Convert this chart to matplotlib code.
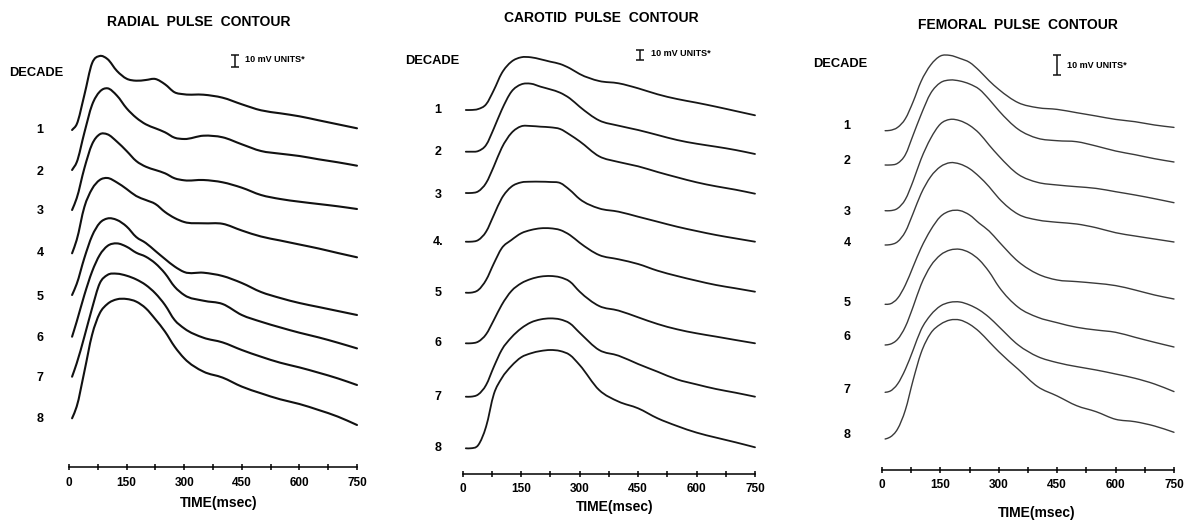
import numpy as np
import matplotlib.pyplot as plt
from matplotlib.path import Path
from matplotlib.patches import PathPatch
from matplotlib.ticker import MultipleLocator, FuncFormatter

plt.rcParams['font.family'] = ['Liberation Sans', 'DejaVu Sans']
plt.rcParams['font.weight'] = 'bold'

W, H = 1191, 520

# sample times (msec) shared by every trace
time_ms = [8, 20, 40, 60, 80, 100, 125, 150, 175, 200, 225, 250, 275, 300,
           350, 400, 450, 500, 550, 600, 650, 700, 750]
decades = ['1', '2', '3', '4', '5', '6', '7', '8']

# pulse height above each trace's starting level, one row per decade
radial = [
    [0, 5.7, 35, 66.7, 74, 71, 59, 51.3, 49.3, 50, 51, 45.7, 37.7, 35.7, 35.3, 32.3, 25.7, 19.7, 16.7, 13.7, 9.7, 5.7, 1.7],
    [0, 7.7, 37.3, 65, 78.3, 81.7, 74.3, 61.7, 52.3, 45.7, 41.7, 37.7, 32.3, 31, 34.3, 32.7, 25.7, 19, 16.3, 14, 10.7, 7.7, 4.3],
    [0, 11.7, 41.7, 65.7, 75.7, 75.7, 68.3, 59, 49, 43.3, 40, 36.7, 31.7, 29.7, 30, 27.7, 22.3, 15, 11, 8.3, 6, 3.7, 1],
    [0, 13.3, 46.3, 64.3, 73.3, 75.3, 70.8, 64.3, 57.3, 53.3, 49.3, 41.3, 35.3, 31.3, 30, 29.5, 22.8, 16.8, 12.8, 8.8, 4.8, 0.3, -4],
    [0, 11, 37, 59, 72, 76.5, 75, 68.5, 58, 52, 44, 36, 28.5, 23, 22.3, 19, 12, 3, -3, -8, -12, -16, -20],
    [0, 15, 41.7, 65, 81.7, 90.7, 93.3, 90, 84, 80, 73.3, 63.3, 50, 41.7, 36, 32.7, 21.7, 15, 9.3, 4, -0.7, -6, -11.7],
    [0, 13.3, 40, 68.3, 93.3, 101.7, 103, 101, 97.3, 91.7, 83.3, 71.7, 56.7, 48.3, 39, 34.3, 26.7, 20, 14, 9.3, 4, -1.7, -8.3],
    [0, 11.7, 46.7, 83.3, 105, 114.3, 119, 119.3, 116.7, 110, 99, 86.7, 71.7, 60, 46.7, 40.7, 31.7, 25, 19, 14.3, 8.3, 1.7, -6.7],
]
carotid = [
    [0, 0, 1, 5.7, 20, 36.7, 48.3, 52.7, 52.7, 50.7, 48.3, 46, 41.7, 36, 29, 26.7, 21.7, 15.7, 11, 7.3, 3.3, -1, -5.3],
    [0, 0, 0.7, 6.7, 23.3, 41.7, 60, 67.3, 68, 65, 62.3, 59, 53.3, 45, 31.3, 26, 21.7, 16.7, 11.7, 8, 5, 1.7, -2.3],
    [0, 0, 1.7, 10, 26.7, 45, 60, 66.7, 67, 66.3, 65.7, 64, 58.3, 51.7, 36.7, 31, 26.7, 21, 15.7, 10.7, 6.7, 3.3, -0.7],
    [0, 0, 1.7, 10, 26.7, 43.3, 55, 59.3, 60, 60, 59.7, 58.7, 51.7, 42.7, 33.3, 30, 25, 20, 15, 10.7, 6.7, 3.3, 0],
    [0, 0, 2.7, 12.7, 29.3, 44.4, 52.7, 59.4, 62.7, 64.4, 64.4, 62.7, 57.7, 50, 37.7, 33.4, 28.7, 22, 16.7, 12, 7.7, 4.4, 1],
    [0, 0, 1.7, 9, 23.3, 38.3, 52.3, 60, 64.3, 66.7, 67.3, 66, 61.7, 51.7, 37.3, 32.7, 26, 19.3, 14, 10, 6.7, 3.3, 0],
    [0, 0, 2.3, 11.7, 30, 46.7, 59.3, 68.3, 74.3, 77.3, 78.3, 77.3, 73.3, 64, 46.7, 41, 32.7, 25, 17.3, 12.3, 7.7, 4, 0],
    [0, 0, 3.3, 21.7, 54.3, 70, 82.3, 91, 95, 97.3, 98.3, 97.3, 93.3, 83.3, 58.3, 46.7, 40, 30, 22.3, 15.7, 10.7, 6, 1],
]
femoral = [
    [0, 0.3, 3.3, 12, 29, 49, 65.7, 74.7, 75.3, 72.3, 68.3, 60, 50, 41.3, 28, 23, 21.3, 18, 14.7, 11.3, 9, 5.7, 3.3],
    [0, 0, 1.7, 10.3, 30, 50, 71.7, 82.3, 85, 84, 81, 75.7, 65.7, 54.3, 35.7, 26.7, 24.3, 23.3, 19, 14, 10.3, 6.3, 3],
    [0, 0, 2.3, 11.3, 29.7, 51.3, 72.3, 86.7, 91.3, 90, 85.3, 77.3, 65.7, 54.7, 36.3, 28.3, 25.7, 24, 22.3, 19, 15.7, 12, 8],
    [0, 0.3, 3.3, 13.3, 31.7, 51, 68.3, 78.3, 82.3, 81, 76.3, 68.3, 58.3, 46.7, 30.7, 25, 22.7, 21, 17.3, 12.3, 9, 6, 3],
    [0, 0.3, 6, 19.3, 37.7, 56, 74.3, 87.7, 93.3, 93.7, 89.3, 81, 73.3, 62.7, 42.7, 30.3, 24.3, 22.7, 21, 18.7, 14.3, 9.3, 5.3],
    [0, 0.7, 5.7, 18.3, 38.3, 60, 79, 90, 95, 95.7, 92.3, 85, 73.3, 58.3, 37.7, 27.7, 22.3, 17.7, 15, 12.7, 7.7, 2.7, -2],
    [0, 1, 8.3, 23, 42.3, 62.3, 77.3, 86.3, 90, 90.3, 87.3, 82.3, 75, 65.7, 47.3, 35.7, 29.7, 25.7, 22.3, 18.3, 14, 8.3, 0.7],
    [0, 1.7, 10, 29, 59, 85.7, 105.7, 114.7, 119, 119, 114.7, 107.3, 97.3, 87.3, 69.7, 52.3, 43, 33.3, 27.3, 19.7, 17.3, 13, 6.7],
]


def fx(x):
    return x / W


def fy(y):
    return 1 - y / H


def smooth_path(x, y):
    # piecewise cubic through the samples, written as bezier segments
    x = np.asarray(x, float)
    y = np.asarray(y, float)
    h = np.diff(x)
    d = np.diff(y) / h
    m = np.empty_like(y)
    m[0], m[-1] = d[0], d[-1]
    m[1:-1] = (h[:-1] * d[1:] + h[1:] * d[:-1]) / (h[:-1] + h[1:])
    verts = [(x[0], y[0])]
    codes = [Path.MOVETO]
    for i in range(len(h)):
        verts += [(x[i] + h[i] / 3, y[i] + m[i] * h[i] / 3),
                  (x[i + 1] - h[i] / 3, y[i + 1] - m[i + 1] * h[i] / 3),
                  (x[i + 1], y[i + 1])]
        codes += [Path.CURVE4] * 3
    return Path(verts, codes)


panels = [
    dict(title='RADIAL  PULSE  CONTOUR', data=radial, x0=69, x1=357, ruler=467,
         base=[130, 170, 210, 253.3, 295, 336.7, 376.7, 418.3],
         nums_x=40, nums_y=[130, 172, 211, 253, 297, 338, 378, 419],
         title_xy=(199, 22), decade_xy=(36, 73), time_xy=(219, 503),
         bar=(432, 406, 6), bar_text=(245, 60), lw=1.5, color='#111111', pad=5),
    dict(title='CAROTID  PULSE  CONTOUR', data=carotid, x0=462.7, x1=755, ruler=474,
         base=[110, 151.7, 193, 241.7, 292.7, 343.3, 396.7, 448.3],
         nums_x=438, nums_y=[110, 152, 195, 242, 293, 343, 397, 448],
         title_xy=(601, 18), decade_xy=(432, 61), time_xy=(615, 507),
         bar=(455, 419.5, 5), bar_text=(651, 54), lw=1.3, color='#161616', pad=4),
    dict(title='FEMORAL  PULSE  CONTOUR', data=femoral, x0=882, x1=1174, ruler=470,
         base=[130.7, 165, 210.7, 245, 304.3, 345, 392.3, 439],
         nums_x=847, nums_y=[126, 161, 212, 243, 303, 337, 390, 435],
         title_xy=(1018, 25), decade_xy=(840, 64), time_xy=(1037, 513),
         bar=(449, 405, 10), bar_text=(1067, 65), lw=1.0, color='#3a3a3a', pad=4),
]

fig = plt.figure(figsize=(W / 100, H / 100), dpi=100)

for p in panels:
    ax = fig.add_axes([fx(p['x0']), fy(p['ruler']), (p['x1'] - p['x0']) / W, p['ruler'] / H])
    ax.set_xlim(0, 750)
    ax.set_ylim(0, p['ruler'])

    # each decade sits on its own baseline, stacked down the panel
    offsets = [p['ruler'] - b for b in p['base']]
    for amp, off in zip(p['data'], offsets):
        yy = np.asarray(amp) + off
        ax.add_patch(PathPatch(smooth_path(time_ms, yy), fill=False, lw=p['lw'],
                               edgecolor=p['color'], capstyle='round', joinstyle='round',
                               clip_on=False))

    for s in ['left', 'right', 'top']:
        ax.spines[s].set_visible(False)
    ax.spines['bottom'].set_linewidth(1.1)
    ax.yaxis.set_visible(False)
    ax.xaxis.set_major_locator(MultipleLocator(75))
    ax.xaxis.set_major_formatter(FuncFormatter(lambda v, _: f'{v:.0f}' if round(v) % 150 == 0 else ''))
    ax.tick_params(axis='x', direction='inout', length=5, width=1.1, pad=p['pad'], labelsize=8.5)
    for lab in ax.get_xticklabels():
        lab.set_fontweight('bold')

    # 10 mV scale bar
    bx, by, bh = p['bar']
    ax.errorbar([bx], [by], yerr=[bh], fmt='none', ecolor='#111111', elinewidth=1.1,
                capsize=3, capthick=1.1, clip_on=False)
    fig.text(fx(p['bar_text'][0]), fy(p['bar_text'][1]), '10 mV UNITS*', fontsize=6.5,
             ha='left', va='center')

    fig.text(fx(p['title_xy'][0]), fy(p['title_xy'][1]), p['title'], fontsize=10,
             ha='center', va='center')
    fig.text(fx(p['decade_xy'][0]), fy(p['decade_xy'][1]), 'DECADE', fontsize=9.3,
             ha='center', va='center')
    for lab, ny in zip(decades, p['nums_y']):
        if p['data'] is carotid and lab == '4':
            lab = '4.'
        fig.text(fx(p['nums_x']), fy(ny), lab, fontsize=9, ha='center', va='center')
    fig.text(fx(p['time_xy'][0]), fy(p['time_xy'][1]), 'TIME(msec)', fontsize=10,
             ha='center', va='center')

fig.savefig('out.png', dpi=100)
